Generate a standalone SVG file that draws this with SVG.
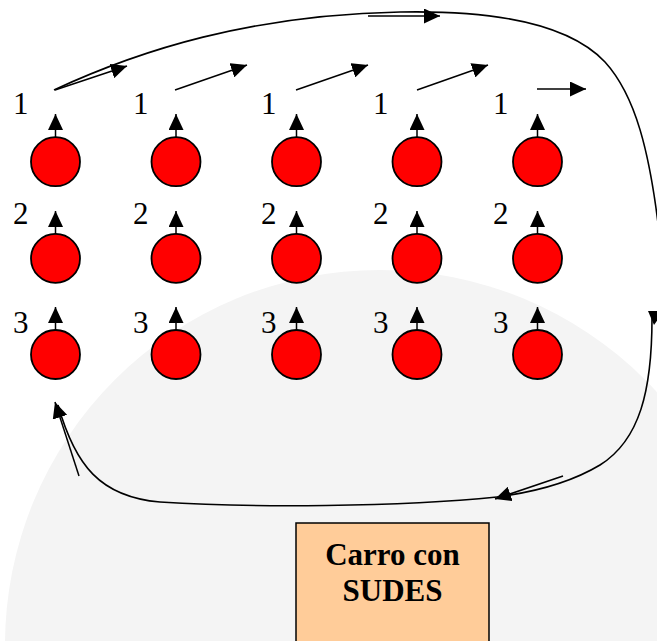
<svg xmlns="http://www.w3.org/2000/svg" width="657" height="641" viewBox="0 0 657 641">
  <defs>
    <marker id="ah" viewBox="0 0 16 15" refX="16" refY="7.5" markerWidth="16" markerHeight="15" markerUnits="userSpaceOnUse" orient="auto">
      <path d="M0,0 L16,7.5 L0,15 z" fill="#000"/>
    </marker>
    <style>
      .ball { fill: #FF0000; stroke: #000; stroke-width: 1.8; }
      .lbl { font-family: "Liberation Serif", "Times New Roman", serif; font-size: 31px; fill: #000; }
      .up { stroke: #000; stroke-width: 1.5; marker-end: url(#ah); }
      .con { fill: none; stroke: #000; stroke-width: 1.6; }
      .arr { fill: none; stroke: #000; stroke-width: 1.5; marker-end: url(#ah); }
      .box { fill: #FFCC99; stroke: #000; stroke-width: 1.5; }
      .boxt { font-family: "Liberation Serif", "Times New Roman", serif; font-size: 31px; font-weight: bold; fill: #000; text-anchor: middle; }
    </style>
  </defs>
  <rect width="657" height="641" fill="#FFFFFF"/>
  <!-- faint watermark seal -->
  <circle cx="380" cy="645" r="375" fill="#F4F4F4"/>

  <g id="connectors">
    <path class="con" d="M54,90 C140,50 250,15 400,12 C500,10 570,25 605,62 C635,95 650,150 660,240"/>
    <path class="con" d="M652,318 C652,390 640,440 600,465 C570,483 535,492 497,497"/>
    <path class="con" d="M497,497 C400,507 250,508 160,502 C100,497 75,465 58,405"/>
    <polygon points="648,311 664,311 654,325" fill="#000"/>
    <line class="arr" x1="55" y1="90" x2="127" y2="66"/>
    <line class="arr" x1="175" y1="90" x2="247" y2="65"/>
    <line class="arr" x1="296" y1="90" x2="368" y2="65"/>
    <line class="arr" x1="417" y1="90" x2="488" y2="65"/>
    <line class="arr" x1="537" y1="89" x2="586" y2="89"/>
    <line class="arr" x1="368" y1="16" x2="440" y2="16"/>
    <line class="arr" x1="563" y1="476" x2="495" y2="499"/>
    <line class="arr" x1="79" y1="476" x2="55" y2="402"/>
  </g>

  <!-- row 1 -->
  <g id="n1-1"><text class="lbl" x="13" y="114">1</text><line class="up" x1="55.5" y1="137" x2="55.5" y2="114"/><circle class="ball" cx="55.5" cy="161.7" r="24.5"/></g>
  <g id="n1-2"><text class="lbl" x="133" y="114">1</text><line class="up" x1="176" y1="137" x2="176" y2="114"/><circle class="ball" cx="176" cy="161.7" r="24.5"/></g>
  <g id="n1-3"><text class="lbl" x="261" y="114">1</text><line class="up" x1="296.5" y1="137" x2="296.5" y2="114"/><circle class="ball" cx="296.5" cy="161.7" r="24.5"/></g>
  <g id="n1-4"><text class="lbl" x="373" y="114">1</text><line class="up" x1="417" y1="137" x2="417" y2="114"/><circle class="ball" cx="417" cy="161.7" r="24.5"/></g>
  <g id="n1-5"><text class="lbl" x="493" y="114">1</text><line class="up" x1="537.5" y1="137" x2="537.5" y2="114"/><circle class="ball" cx="537.5" cy="161.7" r="24.5"/></g>

  <!-- row 2 -->
  <g id="n2-1"><text class="lbl" x="13" y="224">2</text><line class="up" x1="55.5" y1="234" x2="55.5" y2="211"/><circle class="ball" cx="55.5" cy="258.4" r="24.5"/></g>
  <g id="n2-2"><text class="lbl" x="133" y="224">2</text><line class="up" x1="176" y1="234" x2="176" y2="211"/><circle class="ball" cx="176" cy="258.4" r="24.5"/></g>
  <g id="n2-3"><text class="lbl" x="261" y="224">2</text><line class="up" x1="296.5" y1="234" x2="296.5" y2="211"/><circle class="ball" cx="296.5" cy="258.4" r="24.5"/></g>
  <g id="n2-4"><text class="lbl" x="373" y="224">2</text><line class="up" x1="417" y1="234" x2="417" y2="211"/><circle class="ball" cx="417" cy="258.4" r="24.5"/></g>
  <g id="n2-5"><text class="lbl" x="493" y="224">2</text><line class="up" x1="537.5" y1="234" x2="537.5" y2="211"/><circle class="ball" cx="537.5" cy="258.4" r="24.5"/></g>

  <!-- row 3 -->
  <g id="n3-1"><text class="lbl" x="13" y="333">3</text><line class="up" x1="55.5" y1="330" x2="55.5" y2="307"/><circle class="ball" cx="55.5" cy="354.5" r="24.5"/></g>
  <g id="n3-2"><text class="lbl" x="133" y="333">3</text><line class="up" x1="176" y1="330" x2="176" y2="307"/><circle class="ball" cx="176" cy="354.5" r="24.5"/></g>
  <g id="n3-3"><text class="lbl" x="261" y="333">3</text><line class="up" x1="296.5" y1="330" x2="296.5" y2="307"/><circle class="ball" cx="296.5" cy="354.5" r="24.5"/></g>
  <g id="n3-4"><text class="lbl" x="373" y="333">3</text><line class="up" x1="417" y1="330" x2="417" y2="307"/><circle class="ball" cx="417" cy="354.5" r="24.5"/></g>
  <g id="n3-5"><text class="lbl" x="493" y="333">3</text><line class="up" x1="537.5" y1="330" x2="537.5" y2="307"/><circle class="ball" cx="537.5" cy="354.5" r="24.5"/></g>

  <g id="carro">
    <rect class="box" x="296" y="523" width="193" height="130"/>
    <text class="boxt" x="392.5" y="565">Carro con</text>
    <text class="boxt" x="392.5" y="601">SUDES</text>
  </g>
</svg>
